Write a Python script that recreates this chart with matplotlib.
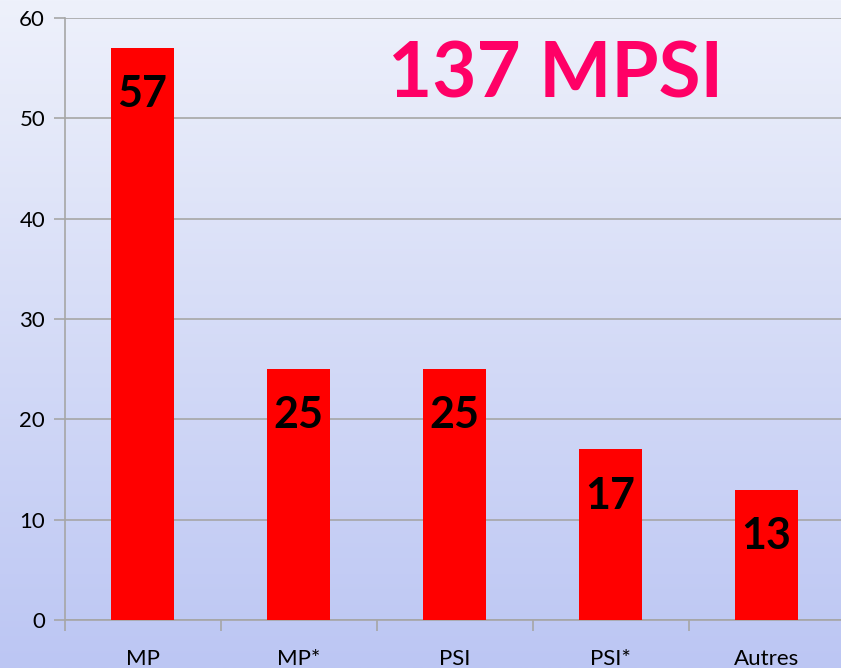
import matplotlib
matplotlib.use("Agg")
import matplotlib.pyplot as plt
import numpy as np

categories = ["MP", "MP*", "PSI", "PSI*", "Autres"]
values = [57, 25, 25, 17, 13]
title_text = "137 MPSI"
yticks = [0, 10, 20, 30, 40, 50, 60]

plt.rcParams['font.family'] = ['Lato', 'DejaVu Sans']

fig = plt.figure(figsize=(8.41, 6.68), dpi=100)

# background gradient
bg = fig.add_axes([0, 0, 1, 1], zorder=0)
top = np.array([238, 241, 251]) / 255
bot = np.array([188, 198, 243]) / 255
t = np.linspace(0, 1, 256)[:, None]
grad = top[None, :] * (1 - t) + bot[None, :] * t
bg.imshow(grad[:, None, :], aspect='auto', extent=[0, 1, 0, 1])
bg.set_axis_off()

ax = fig.add_axes([64.5/841, 48/668, 780/841, 602/668], zorder=1)
ax.patch.set_alpha(0)
x = np.arange(len(categories))
bars = ax.bar(x, values, width=0.4, color='#FF0000', zorder=3)
ax.set_xlim(-0.5, 4.5)
ax.set_ylim(0, 60)
ax.set_yticks(yticks)
ax.yaxis.grid(True, color='#A6A6A6', linewidth=1.2, zorder=0)
ax.set_axisbelow(True)
for s in ['top', 'right']:
    ax.spines[s].set_visible(False)
for s in ['left', 'bottom']:
    ax.spines[s].set_color('#A6A6A6')
    ax.spines[s].set_linewidth(1.2)
ax.tick_params(axis='y', length=8, color='#A6A6A6', width=1.2, labelsize=16, pad=6)
ax.set_xticks(x)
ax.set_xticklabels(categories)
ax.tick_params(axis='x', which='major', length=0, labelsize=16, pad=21)
ax.set_xticks(np.arange(-0.5, 4.5, 1.0), minor=True)
ax.tick_params(axis='x', which='minor', length=8, color='#A6A6A6', width=1.2)

for xi, v in zip(x, values):
    ax.text(xi, v - 4.6, str(v), ha='center', va='center', fontsize=31,
            fontweight='bold', color='black', zorder=4)

fig.text(555/841, 1 - 75/668, title_text, ha='center', va='center', fontsize=55,
         fontweight='bold', color='#FF0066')

fig.savefig("out.png", dpi=100)
